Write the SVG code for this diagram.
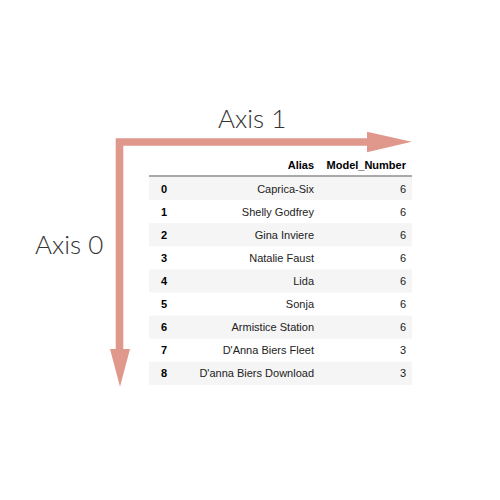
<svg xmlns="http://www.w3.org/2000/svg" width="500" height="500" viewBox="0 0 500 500">
<style>
.axis{font-family:Lato,"Liberation Sans",sans-serif;font-weight:300;font-size:26px;fill:#333}
.hd{font-family:"Liberation Sans",Arial,sans-serif;font-weight:bold;font-size:11px;fill:#000;text-anchor:end}
.idx{font-family:"Liberation Sans",Arial,sans-serif;font-weight:bold;font-size:11px;fill:#000}
.cell{font-family:"Liberation Sans",Arial,sans-serif;font-size:11px;fill:#222;text-anchor:end}
.band{fill:#f5f5f5}
.arr{fill:#e0978c}
</style>
<rect width="500" height="500" fill="#fff"/>
<g id="table">
<rect class="band" x="149" y="177" width="263" height="23.1"/>
<rect class="band" x="149" y="223.2" width="263" height="23.1"/>
<rect class="band" x="149" y="269.4" width="263" height="23.1"/>
<rect class="band" x="149" y="315.6" width="263" height="23.1"/>
<rect class="band" x="149" y="361.8" width="263" height="23.1"/>
<line x1="149" y1="176" x2="412" y2="176" stroke="#555" stroke-width="1"/>
<text class="hd" x="314" y="169">Alias</text>
<text class="hd" x="406" y="169">Model_Number</text>
<g id="row0"><text class="idx" x="161" y="192.5">0</text><text class="cell" x="314" y="192.5">Caprica-Six</text><text class="cell" x="406" y="192.5">6</text></g>
<g id="row1"><text class="idx" x="161" y="215.6">1</text><text class="cell" x="314" y="215.6">Shelly Godfrey</text><text class="cell" x="406" y="215.6">6</text></g>
<g id="row2"><text class="idx" x="161" y="238.7">2</text><text class="cell" x="314" y="238.7">Gina Inviere</text><text class="cell" x="406" y="238.7">6</text></g>
<g id="row3"><text class="idx" x="161" y="261.8">3</text><text class="cell" x="314" y="261.8">Natalie Faust</text><text class="cell" x="406" y="261.8">6</text></g>
<g id="row4"><text class="idx" x="161" y="284.9">4</text><text class="cell" x="314" y="284.9">Lida</text><text class="cell" x="406" y="284.9">6</text></g>
<g id="row5"><text class="idx" x="161" y="308">5</text><text class="cell" x="314" y="308">Sonja</text><text class="cell" x="406" y="308">6</text></g>
<g id="row6"><text class="idx" x="161" y="331.1">6</text><text class="cell" x="314" y="331.1">Armistice Station</text><text class="cell" x="406" y="331.1">6</text></g>
<g id="row7"><text class="idx" x="161" y="354.2">7</text><text class="cell" x="314" y="354.2">D'Anna Biers Fleet</text><text class="cell" x="406" y="354.2">3</text></g>
<g id="row8"><text class="idx" x="161" y="377.3">8</text><text class="cell" x="314" y="377.3">D'anna Biers Download</text><text class="cell" x="406" y="377.3">3</text></g>
</g>
<g id="connectors">
<path class="arr" d="M115.7,138.3 H367 V131.7 L411.7,141.8 L367,152.3 V145.7 H123.3 V349 H130 L120,386.7 L110,349 H115.7 Z"/>
</g>
<g id="axis1"><text class="axis" x="218" y="127.5">Axis 1</text></g>
<g id="axis0"><text class="axis" x="35" y="254">Axis 0</text></g>
</svg>
